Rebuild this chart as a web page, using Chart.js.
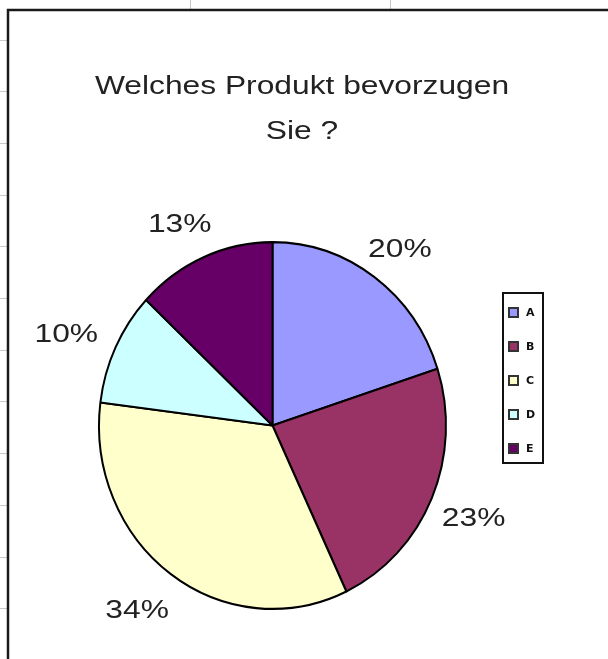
<!DOCTYPE html>
<html>
<head>
<meta charset="utf-8">
<script src="https://cdn.jsdelivr.net/npm/chart.js@4.4.0/dist/chart.umd.min.js"></script>
<style>
  body { margin: 0; background: #fff; }
  #wrap { width: 608px; height: 659px; }
</style>
</head>
<body>
<div id="wrap"><canvas id="pieChart" width="608" height="659"></canvas></div>
<script>
// Data
const products = ['A', 'B', 'C', 'D', 'E'];
const shares = [20, 23, 34, 10, 13];
const sliceColors = ['#9999FF', '#993366', '#FFFFCC', '#CCFFFF', '#660066'];
const titleLines = ['Welches Produkt bevorzugen', 'Sie ?'];

// the old Excel font is wide, so text gets stretched sideways a bit
const TEXT_STRETCH = 1.27;
const FONT = '25px "Liberation Sans", Arial, sans-serif';
// the pie in the screenshot is a little taller than wide
const PIE_SQUASH = 1.057;

function wideText(ctx, text, x, y, stretch) {
    ctx.save();
    ctx.translate(x, y);
    ctx.scale(stretch || TEXT_STRETCH, 1);
    ctx.fillText(text, 0, 0);
    ctx.restore();
}

// frame, faint sheet grid, title
const framePlugin = {
    id: 'frame',
    beforeDraw(chart) {
        const ctx = chart.ctx;
        ctx.save();
        ctx.fillStyle = '#fff';
        ctx.fillRect(0, 0, chart.width, chart.height);
        // spreadsheet lines peeking out around the chart object
        ctx.strokeStyle = '#c8c8c8';
        ctx.lineWidth = 1;
        ctx.beginPath();
        [190.5, 390.5].forEach(x => { ctx.moveTo(x, 0); ctx.lineTo(x, 9); });
        for (let y = 39.5; y < chart.height; y += 51.7) {
            ctx.moveTo(0, Math.round(y) + 0.5);
            ctx.lineTo(7, Math.round(y) + 0.5);
        }
        ctx.stroke();
        // chart border
        ctx.strokeStyle = '#1a1a1a';
        ctx.lineWidth = 2.5;
        ctx.beginPath();
        ctx.moveTo(8, chart.height);
        ctx.lineTo(8, 10);
        ctx.lineTo(chart.width, 10);
        ctx.stroke();
        ctx.restore();
    },
    afterDraw(chart) {
        const ctx = chart.ctx;
        ctx.save();
        ctx.fillStyle = '#222';
        ctx.font = FONT;
        ctx.textAlign = 'center';
        ctx.textBaseline = 'middle';
        wideText(ctx, titleLines[0], 302, 87);
        wideText(ctx, titleLines[1], 302, 132);
        ctx.restore();
    }
};

// stretch the pie vertically around its centre
const squashPie = {
    id: 'squashPie',
    beforeDatasetsDraw(chart) {
        const arc = chart.getDatasetMeta(0).data[0];
        const ctx = chart.ctx;
        ctx.save();
        ctx.translate(0, arc.y);
        ctx.scale(1, PIE_SQUASH);
        ctx.translate(0, -arc.y);
    },
    afterDatasetsDraw(chart) {
        chart.ctx.restore();
    }
};

// percent labels outside every slice
const outsideLabels = {
    id: 'outsideLabels',
    afterDatasetsDraw(chart) {
        const ctx = chart.ctx;
        const arcs = chart.getDatasetMeta(0).data;
        ctx.save();
        ctx.fillStyle = '#222';
        ctx.font = FONT;
        ctx.textAlign = 'center';
        ctx.textBaseline = 'middle';
        arcs.forEach((arc, i) => {
            const mid = (arc.startAngle + arc.endAngle) / 2;
            const dist = arc.outerRadius + 50;
            const x = arc.x + Math.cos(mid) * dist - 4;
            const y = arc.y + Math.sin(mid) * dist + 5;
            wideText(ctx, shares[i] + '%', x, y);
        });
        ctx.restore();
    }
};

// small boxed legend on the right, like the Excel one
const boxLegend = {
    id: 'boxLegend',
    afterDraw(chart) {
        const ctx = chart.ctx;
        const left = 503, top = 293, w = 40, h = 170;
        ctx.save();
        ctx.strokeStyle = '#111';
        ctx.lineWidth = 2;
        ctx.strokeRect(left, top, w, h);
        ctx.font = 'bold 11px "DejaVu Sans", sans-serif';
        ctx.textBaseline = 'middle';
        ctx.textAlign = 'left';
        products.forEach((p, i) => {
            const cy = 312 + i * 34;
            ctx.fillStyle = sliceColors[i];
            ctx.fillRect(509, cy - 4, 9, 9);
            ctx.strokeStyle = '#333';
            ctx.lineWidth = 2;
            ctx.strokeRect(509, cy - 4, 9, 9);
            ctx.fillStyle = '#111';
            wideText(ctx, p, 526, cy + 1, 1);
        });
        ctx.restore();
    }
};

const ctx = document.getElementById('pieChart').getContext('2d');
new Chart(ctx, {
    type: 'pie',
    data: {
        labels: products,
        datasets: [{
            data: shares,
            backgroundColor: sliceColors,
            borderColor: '#000',
            borderWidth: 2
        }]
    },
    options: {
        responsive: false,
        devicePixelRatio: 1,
        animation: false,
        layout: {
            padding: { left: 98, right: 161, top: 251, bottom: 59 }
        },
        plugins: {
            legend: { display: false },
            tooltip: { enabled: false }
        }
    },
    plugins: [framePlugin, squashPie, outsideLabels, boxLegend]
});
</script>
</body>
</html>
